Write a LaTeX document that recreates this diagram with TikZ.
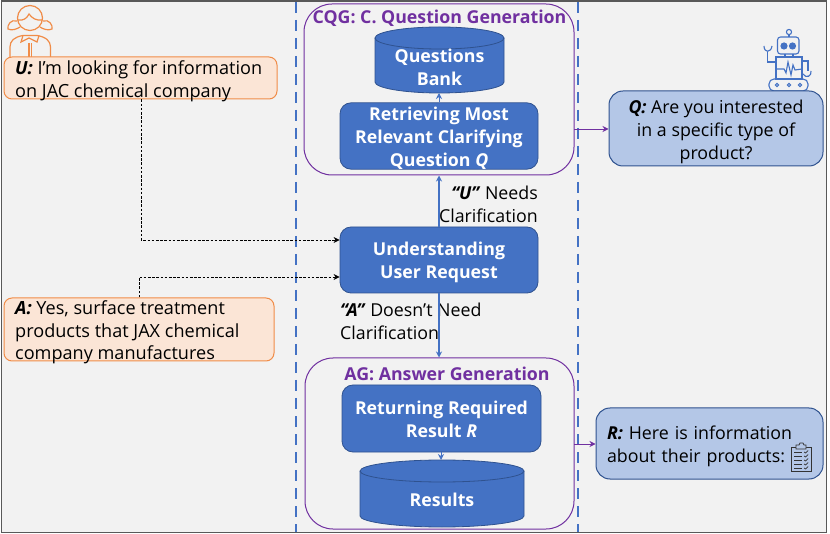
\documentclass[tikz,border=0pt]{standalone}
\usepackage{fontspec}
\setmainfont{Open Sans}
\usetikzlibrary{arrows.meta}
\definecolor{bgc}{HTML}{F2F2F2}
\definecolor{framec}{HTML}{595959}
\definecolor{bluef}{HTML}{4472C4}
\definecolor{blued}{HTML}{2F528F}
\definecolor{purp}{HTML}{7030A0}
\definecolor{orl}{HTML}{FBE5D6}
\definecolor{ord}{HTML}{F08C48}
\definecolor{bll}{HTML}{B4C7E7}
\newcommand{\fs}{\fontsize{17.8}{22.7}\selectfont}
\newcommand{\fu}{\fontsize{18.1}{22.7}\selectfont}
\newcommand{\fh}{\fontsize{17.75}{22.9}\selectfont\bfseries}
\newcommand{\bi}[1]{\textbf{\textit{#1}}}
\newcommand{\lift}[1]{\rule{0pt}{#1pt}}
\tikzset{
 x=1pt,y=-1pt,
 procbox/.style={draw=blued,fill=bluef,line width=0.8pt,rounded corners=11pt,minimum width=198pt,minimum height=66pt,inner sep=0pt,text=white,align=center,font=\fh},
 dbtext/.style={inner sep=0pt,text=white,align=center,font=\fh},
 dbshape/.style={draw=blued,fill=bluef,line width=0.8pt},
 groupbox/.style={draw=purp,line width=1pt,rounded corners=28pt,inner sep=0pt},
 grouplabel/.style={inner sep=0pt,text=purp,font=\fh},
 userbox/.style={draw=ord,fill=orl,line width=1pt,rounded corners=8pt,inner sep=0pt},
 usertext/.style={inner sep=0pt,align=left,anchor=west,font=\fu},
 sysbox/.style={draw=blued,fill=bll,line width=1pt,rounded corners=14pt,inner sep=0pt,align=center,font=\fs},
 lab/.style={inner sep=0pt,font=\fs},
 bluearrow/.style={draw=bluef,line width=1.2pt,-{Stealth[length=6pt,width=6pt]}},
 purparrow/.style={draw=purp,line width=0.9pt,-{Stealth[length=6pt,width=6pt]}},
 dasharrow/.style={draw=black,line width=0.8pt,dash pattern=on 2.6pt off 1.6pt,-{Stealth[length=6pt,width=6pt]}},
 sep/.style={draw=bluef,line width=2.4pt,dash pattern=on 11pt off 7pt},
 ico/.style={draw=ord,line width=1.2pt},
 rob/.style={draw=bluef,line width=1.1pt},
 clip/.style={draw=black!80,line width=0.7pt},
}
\begin{document}
\begin{tikzpicture}
\useasboundingbox (0,0) rectangle (830,534);
\fill[white] (0,0) rectangle (830,534);
\draw[draw=framec,fill=bgc,line width=1.5pt] (1.5,1) rectangle (826.5,532.5);
% separators
\coordinate (s1a) at (296,2); \coordinate (s1b) at (296,532);
\coordinate (s2a) at (578,2); \coordinate (s2b) at (578,532);
\draw[sep] (s1a) -- (s1b);
\draw[sep] (s2a) -- (s2b);
% woman icon
\draw[ico] (30,18) circle (12.5);
\draw[ico] (17.5,20) .. controls (24,21) and (27,18) .. (29,14) .. controls (32,18) and (36,21) .. (42.5,20);
\draw[ico] (17,21) .. controls (11,19) and (7,25) .. (8,29) .. controls (12,31) and (17,29) .. (20,27);
\draw[ico] (43,21) .. controls (49,19) and (53,25) .. (52,29) .. controls (48,31) and (43,29) .. (40,27);
\draw[ico] (10,57) -- (10,47) .. controls (10,41) and (14,37) .. (23,35.5) -- (37,35.5) .. controls (46,37) and (50.5,41) .. (50.5,47) -- (50.5,57);
\draw[ico] (29,43) -- (29,57) (31.5,43) -- (31.5,57);
\draw[ico] (23,35.5) -- (21,42) -- (29,38) -- (37,42) -- (39,35.5);
% robot icon
\draw[rob] (789,32) circle (2.6);
\draw[rob] (789,35) -- (789,37);
\draw[rob,rounded corners=3pt] (777.5,37) rectangle (799,54);
\draw[rob,fill=bluef] (784,46) circle (3);
\draw[rob,fill=bluef] (792.5,46) circle (3);
\draw[rob] (785,54) -- (785,57) (793,54) -- (793,57);
\draw[rob] (776,57) rectangle (802,79);
\draw[rob] (776,69) -- (784,69) -- (786,73) -- (788,62) -- (791,75) -- (793,65) -- (795,70) -- (802,69);
\draw[rob,rounded corners=5pt] (769,79) rectangle (808,91);
\draw[rob] (777,85) circle (1.6) (789,85) circle (1.6) (800,85) circle (1.6);
\draw[rob] (776,62) -- (767.5,62) -- (767.5,52);
\draw[rob] (764,46) .. controls (764,53) and (771,53) .. (772,46);
\draw[rob] (802,61) -- (808,61) -- (808,71);
\draw[rob] (803,74) .. controls (806,79) and (812,76) .. (811,71);
% groups
\node[groupbox,minimum width=270pt,minimum height=171pt] (cqg) at (439,89.5) {};
\node[groupbox,minimum width=269pt,minimum height=171pt] (ag) at (439.5,443.5) {};
\node[grouplabel] (cqgl) at (439.5,18) {CQG: C. Question Generation};
\node[grouplabel] (agl) at (447,374) {AG: Answer Generation};
% databases
\draw[blued,line width=0.8pt,fill=bluef] (375,38) -- (375,82) .. controls (375,88) and (404,93) .. (439.5,93) .. controls (475,93) and (504,88) .. (504,82) -- (504,38);
\draw[dbshape] (439.5,38) ellipse [x radius=64.5,y radius=11];
\node[dbtext] (bank) at (439.5,67) {Questions\\[0pt]Bank};
\coordinate (bankb) at (439,93);
\draw[blued,line width=0.8pt,fill=bluef] (360,471) -- (360,516) .. controls (360,522) and (397,527) .. (442,527) .. controls (487,527) and (524,522) .. (524,516) -- (524,471);
\draw[dbshape] (442,471) ellipse [x radius=82,y radius=11];
\node[dbtext] (res) at (442,500) {Results};
\coordinate (rest) at (441,460);
% process boxes
\node[procbox] (ret) at (439,136) {\lift{17.5}Retrieving Most\\[0pt]Relevant Clarifying\\[0pt]Question \textit{Q}};
\node[procbox] (und) at (439,260) {\lift{19}Understanding\\[0pt]User Request};
\node[procbox,minimum width=199pt,minimum height=67pt] (ans) at (441.5,418.5) {\lift{15.5}Returning Required\\[0pt]Result \textit{R}};
% user boxes
\node[userbox,minimum width=273pt,minimum height=42pt] (u) at (140.5,78) {};
\node[usertext] (ut) at (15,81.5) {\bi{U:} I'm looking for information\\[0pt]on JAC chemical company};
\node[userbox,minimum width=270pt,minimum height=63pt] (a) at (139,329.5) {};
\node[usertext] (at) at (15,332.5) {\bi{A:} Yes, surface treatment\\[0pt]products that JAX chemical\\[0pt]company manufactures};
% system boxes
\node[sysbox,minimum width=214pt,minimum height=75pt] (q) at (716,128.5) {\lift{20}\bi{Q:} Are you interested\\[0pt]in a specific type of\\[0pt]product?};
\node[sysbox,minimum width=227pt,minimum height=71pt,align=left,text width=205pt] (r) at (709.5,443.5) {\lift{19}\bi{R:} Here is information\\[0pt]about their products:};
% clipboard
\draw[clip] (791,447) rectangle (811,471);
\draw[clip,fill=bll] (796,449) -- (796,445) -- (799,445) -- (800,443) -- (803,443) -- (804,445) -- (806,445) -- (806,449) -- cycle;
\foreach \yy in {452,456,460,464,468}{
 \draw[clip] (794,\yy) -- (802,\yy);
 \draw[clip] (804,\yy) -- (805.5,\yy+1) -- (808,\yy-1.5);
}
% labels
\node[lab,align=right,anchor=east] (ln) at (538,204) {\bi{“U”} Needs\\[0pt]Clarification};
\node[lab,align=left,anchor=west] (ld) at (340,321.5) {\bi{“A”} Doesn’t Need\\[0pt]Clarification};
% connectors
\draw[bluearrow] (und.north) -- (und.north |- cqg.south);
\draw[bluearrow] (und.south) -- (und.south |- ag.north);
\draw[bluearrow,line width=0.9pt] (ret.north) -- (bankb);
\draw[bluearrow,line width=0.9pt] (ans.south -| rest) -- (rest);
\coordinate (ua) at (141,99); \coordinate (ub) at (141,240);
\coordinate (aa) at (139,298); \coordinate (ab) at (139,277);
\draw[dasharrow] (u.south -| ua) -- (ub) -- (ub -| und.west);
\draw[dasharrow] (a.north -| aa) -- (ab) -- (ab -| und.west);
\coordinate (qy) at (574,129); \coordinate (ry) at (574,444);
\draw[purparrow] (qy) -- (qy -| q.west);
\draw[purparrow] (ry) -- (ry -| r.west);
\end{tikzpicture}
\end{document}
